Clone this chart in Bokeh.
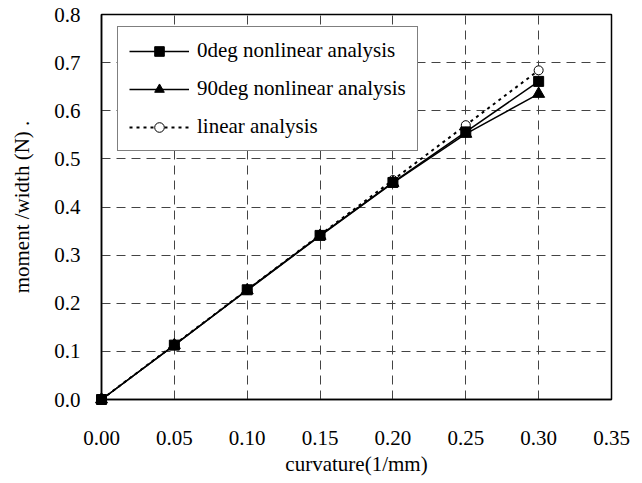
from bokeh.plotting import figure
from bokeh.models import Legend, LegendItem, FixedTicker, PrintfTickFormatter
from bokeh.embed import file_html
from bokeh.resources import INLINE

# curvature (1/mm) and moment per width (N)
curvature = [0.00, 0.05, 0.10, 0.15, 0.20, 0.25, 0.30]
moment_0deg = [0.000, 0.113, 0.228, 0.341, 0.451, 0.556, 0.661]
moment_90deg = [0.000, 0.113, 0.227, 0.340, 0.450, 0.552, 0.635]
moment_linear = [0.000, 0.114, 0.228, 0.342, 0.456, 0.570, 0.684]

x_ticks = [0.00, 0.05, 0.10, 0.15, 0.20, 0.25, 0.30, 0.35]
y_ticks = [0.0, 0.1, 0.2, 0.3, 0.4, 0.5, 0.6, 0.7, 0.8]

FONT = "Liberation Serif"
FONT_SIZE = "21px"

p = figure(width=642, height=483, x_range=(0, 0.35), y_range=(0, 0.8),
           output_backend="svg", toolbar_location=None,
           min_border_left=101, min_border_right=31,
           min_border_top=14, min_border_bottom=84)
p.background_fill_color = "white"
p.border_fill_color = "white"
p.outline_line_color = "black"
p.outline_line_width = 1.5

p.xaxis.ticker = FixedTicker(ticks=x_ticks)
p.yaxis.ticker = FixedTicker(ticks=y_ticks)
p.xaxis.formatter = PrintfTickFormatter(format="%.2f")
p.yaxis.formatter = PrintfTickFormatter(format="%.1f")

for ax in (p.xaxis, p.yaxis):
    ax.major_tick_line_color = None
    ax.minor_tick_line_color = None
    ax.major_tick_out = 0
    ax.major_tick_in = 0
    ax.minor_tick_out = 0
    ax.axis_line_color = "black"
    ax.axis_line_width = 1.5
    ax.major_label_text_font = FONT
    ax.major_label_text_font_size = FONT_SIZE
    ax.major_label_text_color = "black"
    ax.axis_label_text_font = FONT
    ax.axis_label_text_font_size = FONT_SIZE
    ax.axis_label_text_font_style = "normal"
    ax.axis_label_text_color = "black"

p.xaxis.axis_label = "curvature(1/mm)"
p.yaxis.axis_label = "moment /width (N) ."
p.xaxis.major_label_standoff = 31
p.xaxis.axis_label_standoff = 4
p.yaxis.major_label_standoff = 21
p.yaxis.axis_label_standoff = 17

for g in (p.xgrid, p.ygrid):
    g.grid_line_color = "#444444"
    g.grid_line_width = 1
    g.grid_line_dash = "9 6"

# linear analysis (drawn first so the nonlinear markers sit on top)
lin_line = p.line(curvature, moment_linear, line_color="black", line_width=2,
                  line_dash="3 4")
lin_pts = p.scatter(curvature, moment_linear, marker="circle", size=9,
                    fill_color="white", line_color="black", line_width=1,
                    level="overlay")

d90_line = p.line(curvature, moment_90deg, line_color="black", line_width=1.5)
d90_pts = p.scatter(curvature, moment_90deg, marker="triangle", size=12,
                    fill_color="black", line_color="black", level="overlay")

d0_line = p.line(curvature, moment_0deg, line_color="black", line_width=1.5)
d0_pts = p.scatter(curvature, moment_0deg, marker="square", size=10,
                   fill_color="black", line_color="black", level="overlay")

legend = Legend(items=[
    LegendItem(label="0deg nonlinear analysis", renderers=[d0_line, d0_pts]),
    LegendItem(label="90deg nonlinear analysis", renderers=[d90_line, d90_pts]),
    LegendItem(label="linear analysis", renderers=[lin_line, lin_pts]),
], location=(16, 248))
legend.label_text_font = FONT
legend.label_text_font_size = FONT_SIZE
legend.label_text_color = "black"
legend.glyph_width = 60
legend.glyph_height = 24
legend.label_height = 24
legend.label_width = 209
legend.label_standoff = 8
legend.spacing = 13
legend.padding = 11
legend.margin = 0
legend.border_line_color = "black"
legend.border_line_width = 1.5
legend.background_fill_color = "white"
legend.background_fill_alpha = 1.0
p.add_layout(legend, "center")

open("out.html", "w").write(file_html(p, INLINE))
